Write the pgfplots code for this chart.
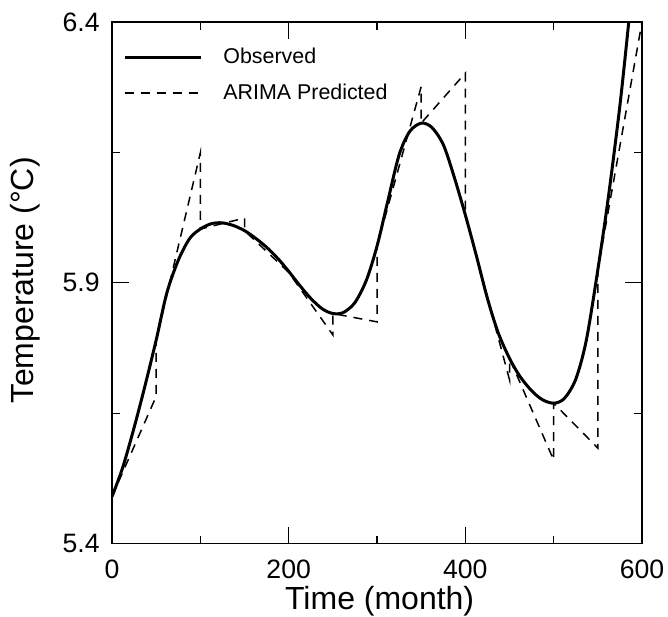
\documentclass[border=0pt]{standalone}
\usepackage{fontspec}
\setmainfont{Liberation Sans}
\usepackage{pgfplots}
\usepackage{pgfplotstable}
\pgfplotsset{compat=1.18}

% observed series (smooth curve)
\pgfplotstableread{
x y
0   5.490
12  5.545
25  5.622
37  5.700
50  5.790
62  5.880
75  5.943
88  5.985
100 6.003
112 6.013
124 6.015
137 6.010
150 6.000
162 5.986
175 5.968
188 5.946
200 5.922
212 5.896
225 5.870
238 5.850
250 5.841
262 5.843
275 5.862
288 5.905
300 5.970
312 6.055
325 6.145
337 6.190
350 6.206
362 6.198
375 6.165
387 6.105
400 6.030
412 5.955
425 5.870
437 5.805
450 5.755
462 5.720
475 5.693
487 5.676
500 5.669
512 5.678
525 5.715
537 5.790
550 5.925
562 6.065
575 6.240
585 6.400
}\observed

% ARIMA predictions, 50-month blocks (repeated x = jump back to observed)
\pgfplotstableread{
x y
0   5.490
50  5.682
50  5.790
100 6.149
100 6.003
150 6.024
150 6.000
200 5.920
250 5.800
250 5.841
300 5.825
300 5.970
350 6.276
350 6.206
400 6.302
400 6.030
450 5.714
450 5.755
500 5.560
500 5.669
550 5.583
550 5.925
600 6.400
}\arima

\begin{document}
\begin{tikzpicture}
\begin{axis}[
  width=265pt, height=260.75pt, scale only axis,
  xmin=0, xmax=600, ymin=5.4, ymax=6.4,
  xtick={0,200,400,600}, minor xtick={100,300,500},
  ytick={5.4,5.9,6.4}, minor ytick={5.65,6.15},
  tick align=inside,
  major tick length=8.5pt, minor tick length=4pt,
  tick style={black, line width=0.6pt},
  axis line style={line width=0.6pt},
  /pgf/number format/assume math mode=true,
  /pgf/number format/fixed,
  ticklabel style={font=\fontsize{13.3}{15}\selectfont, inner sep=0pt},
  xticklabel style={yshift=-8.25pt},
  yticklabel style={xshift=-6pt, /pgf/number format/precision=1, /pgf/number format/fixed zerofill},
  xlabel={Time (month)},
  ylabel={Temperature (°C)},
  every axis x label/.style={at={(axis description cs:0.505,-0.1256)}, anchor=base,
    font=\fontsize{16}{19}\selectfont, inner sep=0pt},
  every axis y label/.style={at={(axis description cs:-0.149,0.505)}, rotate=90, anchor=base,
    font=\fontsize{16}{19}\selectfont, inner sep=0pt},
  legend style={at={(rel axis cs:0,1)}, anchor=north west, xshift=5.5pt, yshift=-12.8pt,
    draw=none, fill=none, font=\fontsize{10.7}{12.8}\selectfont, inner sep=0pt,
    row sep=8.5pt, nodes={inner sep=0pt},
    /tikz/every odd column/.append style={column sep=10.5pt}},
  legend cell align=left,
  legend image code/.code={\draw[#1] (0pt,0pt) -- (38pt,0pt);},
]
\addplot[black, line width=1.5pt, smooth] table {\observed};
\addlegendentry{Observed}
\addplot[black, line width=0.75pt, dash pattern=on 4.5pt off 3.5pt] table {\arima};
\addlegendentry{ARIMA Predicted}
\coordinate (bl) at (rel axis cs:0,0);
\coordinate (tr) at (rel axis cs:1,1);
\end{axis}
\pgfresetboundingbox
\path ([shift={(-56pt,-36.25pt)}]bl) rectangle ([shift={(13pt,11pt)}]tr);
\end{tikzpicture}
\end{document}
